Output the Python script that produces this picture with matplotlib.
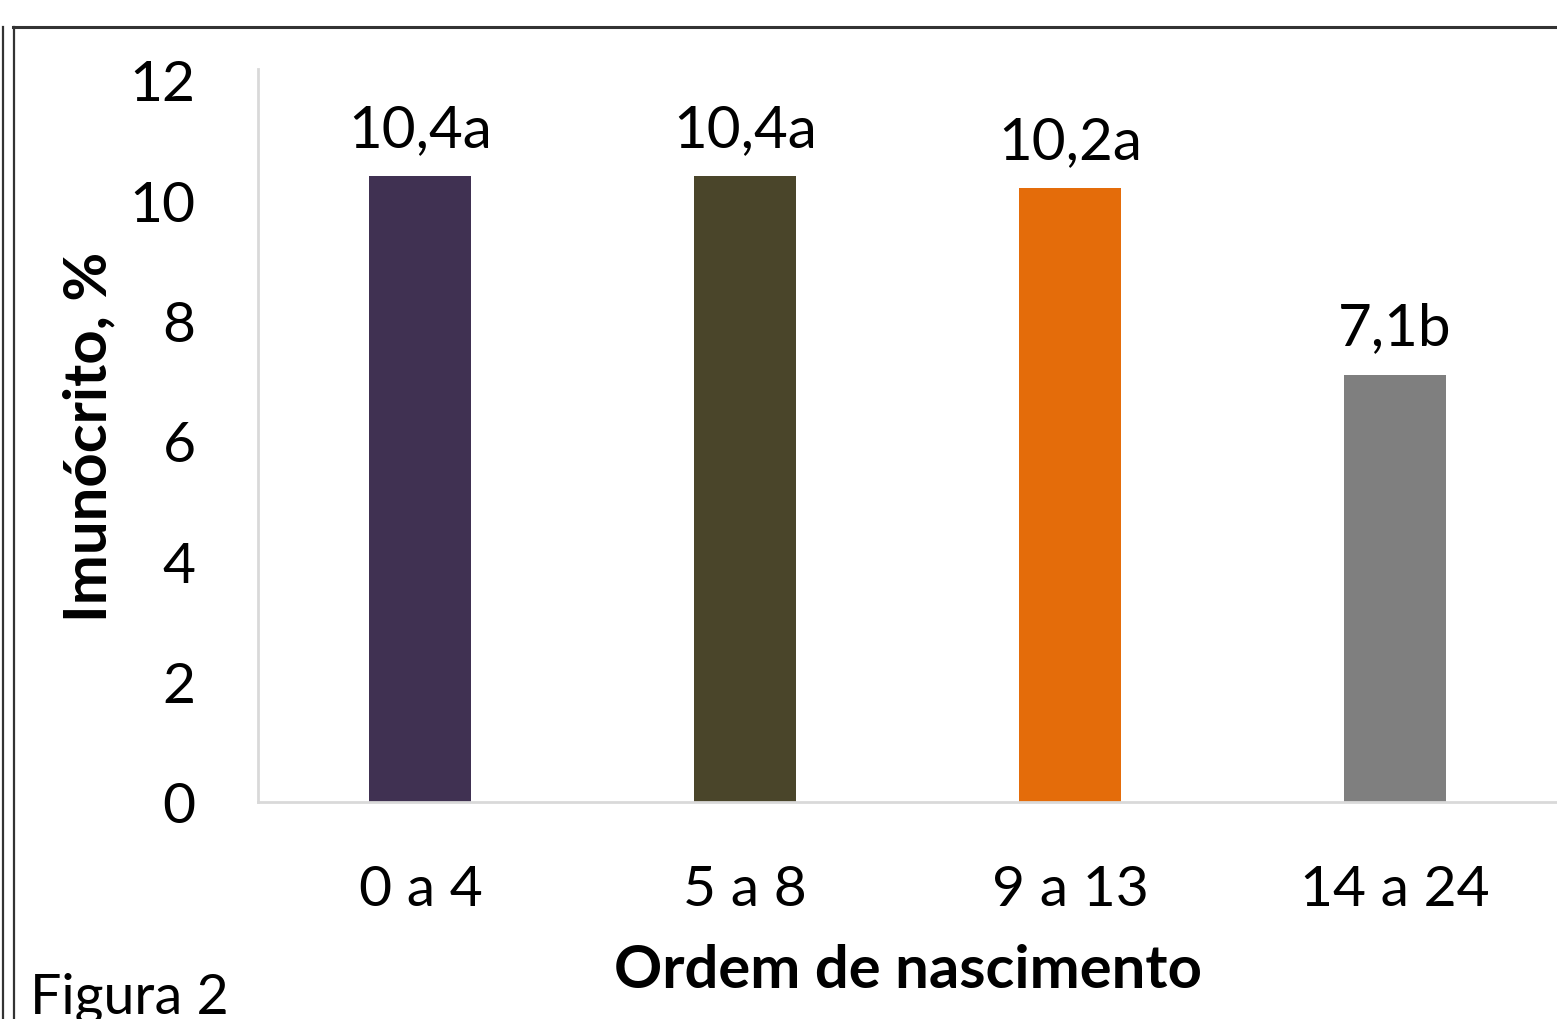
import matplotlib
matplotlib.use("Agg")
import matplotlib.pyplot as plt
from matplotlib.lines import Line2D

# Data
categories = ["0 a 4", "5 a 8", "9 a 13", "14 a 24"]
values = [10.4, 10.4, 10.2, 7.1]
letters = ["a", "a", "a", "b"]
colors = ["#403152", "#4A452A", "#E46C0A", "#7F7F7F"]
yticks = [0, 2, 4, 6, 8, 10, 12]

plt.rcParams["font.family"] = ["Lato", "DejaVu Sans"]

W, H = 1557, 1020
fig = plt.figure(figsize=(W / 100, H / 100), dpi=100)
fig.patch.set_facecolor("white")

# Axes box in pixel terms
left, right, bottom, top = 258, 1557.5, 803, 70
ax = fig.add_axes([left / W, 1 - bottom / H, (right - left) / W, (bottom - top) / H])

x = range(len(categories))
ax.bar(x, values, width=0.314, color=colors, zorder=2)
ax.set_xlim(-0.5, 3.5)
ax.set_ylim(0, 12.18)
ax.set_yticks(yticks)
ax.set_yticklabels([str(t) for t in yticks])
ax.set_xticks(list(x))
ax.set_xticklabels(categories)

for i, (v, l) in enumerate(zip(values, letters)):
    ax.annotate(f"{v:.1f}".replace(".", ",") + l, (i, v), xytext=(0, 14.5),
                textcoords="offset points", ha="center", va="bottom",
                fontsize=42, color="black")

for s in ["top", "right"]:
    ax.spines[s].set_visible(False)
for s in ["left", "bottom"]:
    ax.spines[s].set_color("#d9d9d9")
    ax.spines[s].set_linewidth(2)
ax.tick_params(axis="both", length=0, labelsize=41, colors="black")
ax.tick_params(axis="y", pad=45)
ax.tick_params(axis="x", pad=45)

ax.set_xlabel("Ordem de nascimento", fontsize=43, fontweight="bold", labelpad=20)
ax.set_ylabel("Imunócrito, %", fontsize=43, fontweight="bold", labelpad=9)

fig.text(30 / W, 1 - 1014 / H, "Figura 2", fontsize=40, ha="left", va="baseline")

# Page frame lines
lc = "#333333"
fig.add_artist(Line2D([3 / W, 3 / W], [0, 1 - 28 / H], color=lc, lw=1.6, transform=fig.transFigure))
fig.add_artist(Line2D([14 / W, 14 / W], [0, 1 - 28 / H], color=lc, lw=1.6, transform=fig.transFigure))
fig.add_artist(Line2D([13 / W, 1], [1 - 28 / H, 1 - 28 / H], color=lc, lw=2.2, transform=fig.transFigure))

fig.savefig("out.png", dpi=100)
